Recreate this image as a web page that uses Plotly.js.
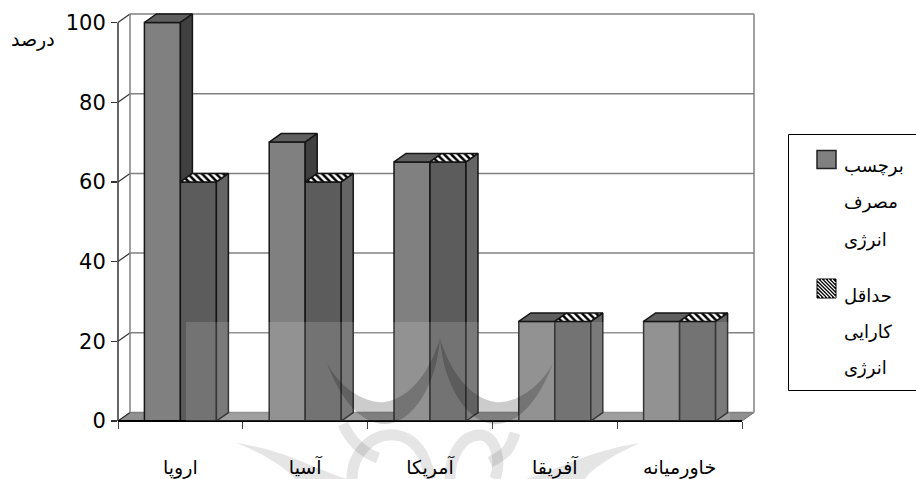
<!DOCTYPE html>
<html><head><meta charset="utf-8">
<script src="https://cdn.plot.ly/plotly-3.0.1.min.js"></script>
<style>html,body{margin:0;padding:0;background:#fff}</style>
</head><body><div id="chart" style="width:916px;height:479px"></div>
<script>
const categories = ['اروپا','آسیا','آمریکا','آفریقا','خاورمیانه'];
const energyUse = [100,70,65,25,25];
const minEfficiency = [60,60,65,25,25];
const yTicks = [0,20,40,60,80,100];
const yTitle = 'درصد';
const legendLines1 = ['برچسب','مصرف','انرژی'];
const legendLines2 = ['حداقل','کارایی','انرژی'];

// layout geometry
const W=916,H=479,L=118,R=756,T=12,B=421;
const catPx=124.8, unitPx=3.985;
const dx=12/catPx, dy=8.5/unitPx, barW=36/catPx;
const xMin=-0.5, xFront=xMin+categories.length, xMax=xMin+(R-L)/catPx, yMax=(B-T)/unitPx;
const ink='#151515', wall='#808080';
const PW=R-L, PH=B-T;
const px=x=>(x-L)/PW, py=y=>1-(y-T)/PH;
const P=(cmd,x,y)=>cmd+px(x)+','+py(y)+' ';

const traces=[
 {type:'bar',name:'برچسب مصرف انرژی',x:categories.map((c,i)=>i),y:energyUse,width:barW,offset:-barW,
  marker:{color:'#808080',line:{color:ink,width:1.5}},hoverinfo:'y',showlegend:false},
 {type:'bar',name:'حداقل کارایی انرژی',x:categories.map((c,i)=>i),y:minEfficiency,width:barW,offset:0,
  marker:{color:'#5c5c5c',line:{color:ink,width:1.5}},hoverinfo:'y',showlegend:false}
];
function poly(xs,ys,color,pattern){
 const t={type:'scatter',mode:'lines',x:xs,y:ys,fill:'toself',fillcolor:color,
  line:{color:ink,width:1.5},hoverinfo:'skip',showlegend:false,cliponaxis:false};
 if(pattern) t.fillpattern=pattern;
 traces.push(t);
}
categories.forEach((c,i)=>{
 const v1=energyUse[i],v2=minEfficiency[i];
 const a=i-barW,b=i,e=i+barW;
 poly([a,b,b+dx,a+dx,a],[v1,v1,v1+dy,v1+dy,v1],'#5f5f5f');
 if(v1>v2) poly([b,b,b+dx,b+dx,b],[v2,v1,v1+dy,v2+dy,v2],'#404040');
 poly([e,e,e+dx,e+dx,e],[0,v2,v2+dy,dy,0],'#656565');
 poly([b,e,e+dx,b+dx,b],[v2,v2,v2+dy,v2+dy,v2],'#000000',
   {shape:'\\',fgcolor:'#000000',bgcolor:'#ffffff',size:5,solidity:0.5,fillmode:'replace'});
});

const shapes=[];
// floor
shapes.push({type:'path',layer:'below',xref:'x',yref:'y',
 path:`M${xMin},0 L${xFront},0 L${xFront+dx},${dy} L${xMin+dx},${dy} Z`,
 fillcolor:'#909090',line:{color:'#707070',width:1}});
// back wall grid and diagonals
yTicks.forEach(v=>{
 shapes.push({type:'line',layer:'below',xref:'x',yref:'y',x0:xMin+dx,x1:xFront+dx,y0:v+dy,y1:v+dy,line:{color:wall,width:1.5}});
 shapes.push({type:'line',layer:'below',xref:'x',yref:'y',x0:xMin,x1:xMin+dx,y0:v,y1:v+dy,line:{color:'#333',width:1.2}});
});
[xMin+dx,xFront+dx].forEach(x=>shapes.push({type:'line',layer:'below',xref:'x',yref:'y',x0:x,x1:x,y0:dy,y1:100+dy,line:{color:wall,width:1.5}}));
// front axes
shapes.push({type:'line',layer:'above',xref:'paper',yref:'y',x0:0,x1:0,y0:0,y1:100,line:{color:'#333',width:1.5}});
shapes.push({type:'line',layer:'above',xref:'x',yref:'paper',x0:xMin,x1:xFront,y0:0,y1:0,line:{color:'#000',width:2}});
// legend box and swatches
const rect=(x0,y0,x1,y1,fill,line,lw)=>({type:'rect',layer:'above',xref:'paper',yref:'paper',x0:px(x0),x1:px(x1),y0:py(y1),y1:py(y0),fillcolor:fill,line:{color:line,width:lw}});
shapes.push(rect(788.5,134.5,930,390.5,'#ffffff','#000',1));
shapes.push(rect(817,150.5,836,168.5,'#808080','#222',1.5));
shapes.push(rect(817,279,836,298,'#000000','#000',1));
let hatch='';
[0,3.6,7.2,10.8,14.4].forEach(d=>{
 hatch+=P('M',817.5+d,279.5)+P('L',835.5,297.5-d);
 if(d>0) hatch+=P('M',817.5,279.5+d)+P('L',835.5-d,297.5);
});
shapes.push({type:'path',layer:'above',xref:'paper',yref:'paper',path:hatch,line:{color:'#fff',width:1.2}});
// background watermark
const wm=(path,extra)=>Object.assign({type:'path',layer:'above',xref:'paper',yref:'paper',path},extra);
shapes.push(rect(186,322,730,421,'rgba(255,255,255,0.14)','rgba(0,0,0,0)',0));
const crescent=(m)=>{const f=x=>m?880-x:x;
 return P('M',f(327),363)+`C${px(f(340))},${py(388)} ${px(f(365))},${py(404)} ${px(f(385))},${py(402)} `+
  `C${px(f(410))},${py(398)} ${px(f(430))},${py(372)} ${px(f(440))},${py(338)} `+
  `C${px(f(437))},${py(385)} ${px(f(412))},${py(424)} ${px(f(385))},${py(424)} `+
  `C${px(f(360))},${py(424)} ${px(f(340))},${py(398)} ${px(f(327))},${py(363)} Z`;};
[false,true].forEach(m=>shapes.push(wm(crescent(m),{fillcolor:'rgba(0,0,0,0.2)',line:{width:0}})));
const c=(a,b,d,e,f,g)=>`C${px(a)},${py(b)} ${px(d)},${py(e)} ${px(f)},${py(g)} `;
const stroke={fillcolor:'rgba(0,0,0,0)',line:{color:'rgba(0,0,0,0.1)',width:11}};
shapes.push(wm(P('M',352,479)+c(352,455,370,433,395,435)+c(415,437,426,455,430,479),stroke));
shapes.push(wm(P('M',450,479)+c(450,455,462,435,480,435)+c(495,435,502,460,495,479),stroke));
shapes.push(wm(P('M',343,424)+c(350,440,362,452,378,458),stroke));
shapes.push(wm(P('M',515,433)+c(510,450,505,455,490,462),stroke));
const wing=(x0,x1,x2)=>P('M',x0,443)+c((x0+x1)/2,452,(x0+x1)/2+(x1-x0)*.2,470,x1,479)+P('L',x2,479)+c(x2-(x2-x0)*.1,470,(x0+x2)/2,455,x0,443)+'Z';
shapes.push(wm(wing(237,348,295),{fillcolor:'rgba(0,0,0,0.1)',line:{width:0}}));
shapes.push(wm(wing(640,525,585),{fillcolor:'rgba(0,0,0,0.1)',line:{width:0}}));

const font='"DejaVu Sans"';
const annotations=[];
const label=(text,x,y,size)=>annotations.push({text,xref:'paper',yref:'paper',x:px(x),y:py(y),xanchor:'left',yanchor:'middle',showarrow:false,font:{family:font,size:size||18,color:'#000'}});
label(yTitle,9,40,19);
[166,202,240].forEach((y,i)=>label(legendLines1[i],842,y));
[295,331,368].forEach((y,i)=>label(legendLines2[i],842,y));

Plotly.newPlot('chart',traces,{
 width:W,height:H,autosize:false,showlegend:false,barmode:'overlay',
 margin:{l:L,r:W-R,t:T,b:H-B,pad:0},
 paper_bgcolor:'#fff',plot_bgcolor:'rgba(0,0,0,0)',
 xaxis:{type:'linear',range:[xMin,xMax],tickmode:'array',tickvals:categories.map((c,i)=>i),ticktext:categories,
  ticks:'',ticklabelstandoff:33,showgrid:false,zeroline:false,showline:false,
  tickfont:{family:font,size:19,color:'#000'},
  minor:{tickmode:'array',tickvals:categories.map((c,i)=>i-0.5).concat([xFront]),ticks:'outside',ticklen:7,tickcolor:'#444',tickwidth:1,showgrid:false}},
 yaxis:{range:[0,yMax],tickmode:'array',tickvals:yTicks,ticks:'outside',ticklen:6,tickcolor:'#333',tickwidth:1.2,ticklabelstandoff:1,
  showgrid:false,zeroline:false,showline:false,tickfont:{family:font,size:21,color:'#000'}},
 shapes,annotations
},{displayModeBar:false,staticPlot:true});
</script></body></html>
